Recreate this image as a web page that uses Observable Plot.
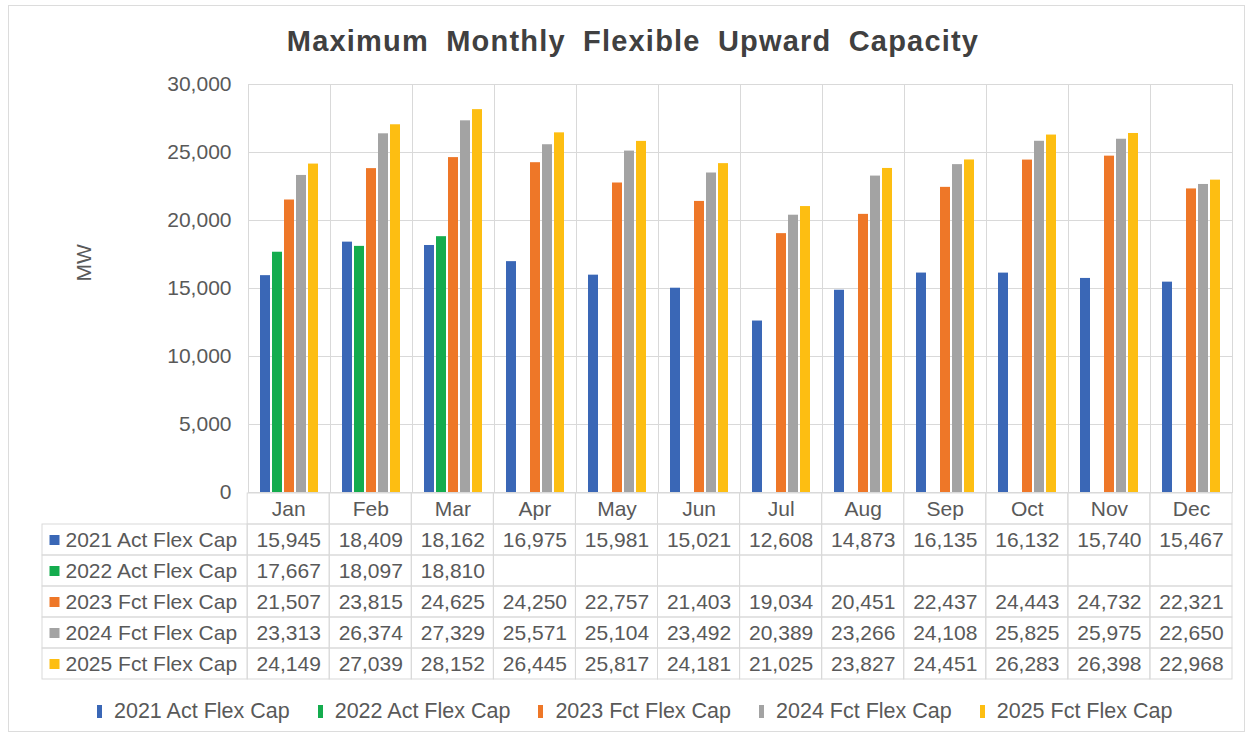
<!DOCTYPE html>
<html>
<head>
<meta charset="utf-8">
<script src="https://cdn.jsdelivr.net/npm/d3@7"></script>
<script src="https://cdn.jsdelivr.net/npm/@observablehq/plot@0.6"></script>
<style>
  html, body { margin: 0; padding: 0; background: #fff; }
  #page { position: relative; width: 1250px; height: 736px; overflow: hidden; font-family: "Liberation Sans", Arial, sans-serif; color: #595959; }
  #border { position: absolute; left: 8px; top: 5px; width: 1237px; height: 727px; border: 1px solid #dcdcdc; box-sizing: border-box; }
  #title { position: absolute; left: 8px; width: 1250px; top: 27px; text-align: center; font-size: 29px; line-height: 29px; font-weight: bold; color: #404040; letter-spacing: 1.2px; word-spacing: 8px; }
  #chart { position: absolute; left: 0; top: 70px; }
  #table { position: absolute; left: 0; top: 492px; }
  #legend { position: absolute; left: 97px; top: 699px; display: flex; gap: 28px; font-size: 21.5px; line-height: 24px; white-space: nowrap; }
  #legend .item { display: flex; align-items: center; }
  #legend .sw { display: inline-block; width: 5px; height: 13px; margin-right: 12px; }
  svg { overflow: visible; }
</style>
</head>
<body>
<div id="page">
  <div id="border"></div>
  <div id="title"></div>
  <div id="chart"></div>
  <div id="table"></div>
  <div id="legend"></div>
</div>
<script>
const months = ["Jan","Feb","Mar","Apr","May","Jun","Jul","Aug","Sep","Oct","Nov","Dec"];
const series = ["2021 Act Flex Cap","2022 Act Flex Cap","2023 Fct Flex Cap","2024 Fct Flex Cap","2025 Fct Flex Cap"];
const colors = ["#3A67B6","#14AC4E","#EE7728","#A3A3A3","#FDBE12"];
const v2021 = [15945,18409,18162,16975,15981,15021,12608,14873,16135,16132,15740,15467];
const v2022 = [17667,18097,18810];
const v2023 = [21507,23815,24625,24250,22757,21403,19034,20451,22437,24443,24732,22321];
const v2024 = [23313,26374,27329,25571,25104,23492,20389,23266,24108,25825,25975,22650];
const v2025 = [24149,27039,28152,26445,25817,24181,21025,23827,24451,26283,26398,22968];
const yTicks = [0,5000,10000,15000,20000,25000,30000];
const yLabel = "MW";
const titleText = "Maximum Monthly Flexible Upward Capacity";

const valueSets = [v2021, v2022, v2023, v2024, v2025];
const data = series.flatMap((s, k) => valueSets[k].map((v, i) => ({month: months[i], series: s, value: v, i})));
const fmt = d3.format(",");
const textColor = "#595959";
const gridColor = "#d9d9d9";
const font = "'Liberation Sans', Arial, sans-serif";

document.getElementById("title").textContent = titleText;

const chart = Plot.plot({
  width: 1250,
  height: 423,
  marginTop: 14,
  marginBottom: 1,
  marginLeft: 247,
  marginRight: 18,
  style: {fontFamily: font, fontSize: "21px", color: textColor, background: "transparent", overflow: "visible"},
  fx: {domain: months, padding: 0, axis: null},
  x: {domain: series, paddingInner: 0.18, paddingOuter: 0.82, axis: null},
  y: {domain: [0, 30000], axis: null},
  color: {domain: series, range: colors},
  marks: [
    Plot.gridY(yTicks, {stroke: gridColor, strokeOpacity: 1, strokeWidth: 1}),
    Plot.frame({stroke: gridColor, strokeWidth: 1}),
    Plot.axisY(yTicks, {tickFormat: fmt, tickSize: 0, tickPadding: 17, fontSize: 21, label: null}),
    Plot.text([yLabel], {fx: () => months[0], frameAnchor: "left", rotate: -90, dx: -164, dy: -7, text: d => d, fontSize: 21, fill: textColor}),
    Plot.barY(data, {fx: "month", x: "series", y: "value", fill: "series"})
  ]
});
document.getElementById("chart").appendChild(chart);

// Data table
const rows = ["header", ...series];
const monthCells = rows.flatMap(r => months.map((m, i) => ({row: r, i})));
const labelCells = series.map(s => ({row: s}));
const headerTexts = months.map((m, i) => ({row: "header", i, text: m}));
const valueTexts = data.map(d => ({row: d.series, i: d.i, text: fmt(d.value)}));
const labelW = 2.5;

const table = Plot.plot({
  width: 1250,
  height: 189,
  marginTop: 0,
  marginBottom: 1,
  marginLeft: 42,
  marginRight: 18,
  style: {fontFamily: font, fontSize: "21px", color: textColor, background: "transparent", overflow: "visible"},
  x: {domain: [-labelW, 12], axis: null},
  y: {domain: rows, padding: 0, axis: null},
  color: {domain: series, range: colors},
  marks: [
    Plot.barX(monthCells, {x1: d => d.i, x2: d => d.i + 1, y: "row", fill: "none", stroke: gridColor, strokeWidth: 1}),
    Plot.barX(labelCells, {x1: () => -labelW, x2: () => 0, y: "row", fill: "none", stroke: gridColor, strokeWidth: 1}),
    Plot.text(headerTexts, {x: d => d.i + 0.5, y: "row", text: "text", fontSize: 21, fill: textColor}),
    Plot.text(valueTexts, {x: d => d.i + 0.5, y: "row", text: "text", fontSize: 21, fill: textColor}),
    Plot.dot(labelCells, {x: () => -labelW, y: "row", dx: 12, symbol: "square", r: 5.64, fill: "row", stroke: null}),
    Plot.text(labelCells, {x: () => -labelW, y: "row", dx: 23, text: "row", textAnchor: "start", fontSize: 21, fill: textColor})
  ]
});
document.getElementById("table").appendChild(table);

// Legend
const legend = document.getElementById("legend");
series.forEach((s, k) => {
  const item = document.createElement("div");
  item.className = "item";
  const sw = document.createElement("span");
  sw.className = "sw";
  sw.style.background = colors[k];
  const t = document.createElement("span");
  t.textContent = s;
  item.appendChild(sw);
  item.appendChild(t);
  legend.appendChild(item);
});
</script>
</body>
</html>
